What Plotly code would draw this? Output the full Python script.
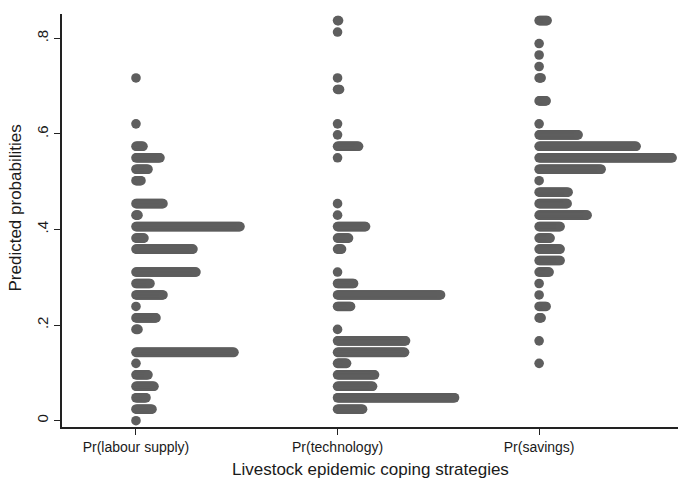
import plotly.graph_objects as go

# Predicted-probability bins (y) and number of observations in each bin
strategies = ["Pr(labour supply)", "Pr(technology)", "Pr(savings)"]

labour_p = [0.000, 0.024, 0.048, 0.072, 0.096, 0.120, 0.143, 0.191, 0.215, 0.239,
            0.263, 0.287, 0.311, 0.359, 0.382, 0.406, 0.430, 0.454, 0.502, 0.526,
            0.550, 0.574, 0.621, 0.717]
labour_n = [1, 17, 11, 19, 13, 1, 99, 3, 21, 1,
            28, 15, 61, 58, 9, 105, 3, 28, 6, 13,
            25, 8, 1, 1]

technology_p = [0.024, 0.048, 0.072, 0.096, 0.120, 0.143, 0.167, 0.191, 0.239, 0.263,
                0.287, 0.311, 0.359, 0.382, 0.406, 0.430, 0.454, 0.550, 0.574, 0.598,
                0.621, 0.693, 0.717, 0.813, 0.837]
technology_n = [26, 118, 36, 38, 10, 68, 69, 1, 14, 104,
                17, 1, 5, 12, 29, 1, 1, 1, 22, 1,
                1, 3, 1, 1, 2]

savings_p = [0.120, 0.167, 0.215, 0.239, 0.263, 0.287, 0.311, 0.335, 0.359, 0.382,
             0.406, 0.430, 0.454, 0.478, 0.502, 0.526, 0.550, 0.574, 0.598, 0.621,
             0.669, 0.717, 0.741, 0.765, 0.789, 0.837]
savings_n = [1, 1, 3, 8, 1, 1, 11, 22, 22, 12,
             22, 49, 29, 30, 1, 63, 134, 98, 40, 1,
             8, 3, 1, 1, 1, 9]

y_tickvals = [0, 0.2, 0.4, 0.6, 0.8]
y_ticktext = ["0", ".2", ".4", ".6", ".8"]

x_title = "Livestock epidemic coping strategies"
y_title = "Predicted probabilities"

# Layout constants
W, H = 678, 479
M_L, M_R, M_T, M_B = 62, 0, 14, 52
X_RANGE = [0.633, 3.689]
Y_RANGE = [-0.0132, 0.8508]
px_per_x = (W - M_L - M_R) / (X_RANGE[1] - X_RANGE[0])
DOT_STEP = 1.0 / px_per_x          # one pixel between stacked dots
DOT_COLOR = "#5e5e5e"
TEXT_COLOR = "#1a1a1a"
AXIS_COLOR = "#222222"
FONT = "Liberation Sans, Arial, sans-serif"

fig = go.Figure()

columns = [(labour_p, labour_n), (technology_p, technology_n), (savings_p, savings_n)]
for col, (probs, counts) in enumerate(columns, start=1):
    xs, ys = [], []
    for p, n in zip(probs, counts):
        for i in range(n):
            xs.append(col + i * DOT_STEP)
            ys.append(p)
    fig.add_trace(go.Scatter(
        x=xs, y=ys, mode="markers",
        marker=dict(size=9.6, color=DOT_COLOR, line=dict(width=0)),
        showlegend=False, hoverinfo="skip",
    ))

fig.update_layout(
    width=W, height=H,
    margin=dict(l=M_L, r=M_R, t=M_T, b=M_B, pad=0),
    plot_bgcolor="white", paper_bgcolor="white",
    font=dict(family=FONT, color=TEXT_COLOR),
)

fig.update_xaxes(
    range=X_RANGE, tickmode="array", tickvals=[1, 2, 3], ticktext=strategies,
    showgrid=False, zeroline=False,
    showline=True, linecolor=AXIS_COLOR, linewidth=1.6,
    ticks="outside", ticklen=6, tickwidth=1.3, tickcolor=AXIS_COLOR,
    tickfont=dict(size=14, family=FONT, color=TEXT_COLOR),
)

fig.update_yaxes(
    range=Y_RANGE, tickmode="array", tickvals=y_tickvals, ticktext=y_ticktext,
    tickangle=-90,
    showgrid=False, zeroline=False,
    showline=True, linecolor=AXIS_COLOR, linewidth=1.6,
    ticks="outside", ticklen=6, tickwidth=1.3, tickcolor=AXIS_COLOR,
    tickfont=dict(size=15, family=FONT, color=TEXT_COLOR),
)

# Axis titles
fig.add_annotation(
    text=x_title, xref="paper", yref="paper", x=0.5, y=-0.104,
    xanchor="center", yanchor="middle", showarrow=False,
    font=dict(size=17, family=FONT, color=TEXT_COLOR),
)
fig.add_annotation(
    text=y_title, xref="paper", yref="paper", x=-0.0763, y=0.5315,
    xanchor="center", yanchor="middle", textangle=-90, showarrow=False,
    font=dict(size=17, family=FONT, color=TEXT_COLOR),
)

fig.write_html("out.html")
